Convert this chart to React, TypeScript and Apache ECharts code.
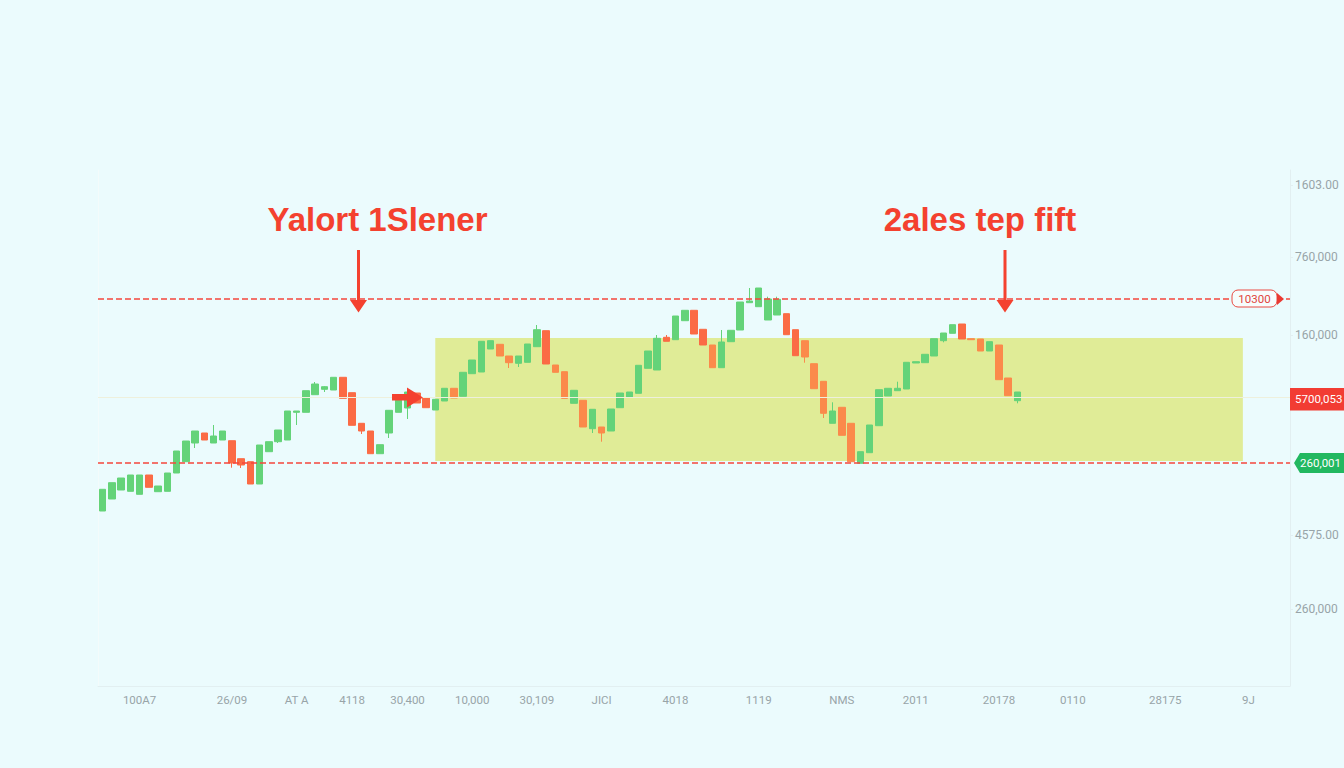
import React, { useEffect, useRef } from 'react';
import * as echarts from 'echarts';

// [open, close, low, high], low/high only where a wick sticks out of the body
const candles: number[][] = [
  [175, 196.7], [187, 203.3], [196, 208], [194.7, 211], [191.7, 211], [211, 198.7], [194.3, 200], [194.7, 213],
  [213, 235], [224.3, 245], [243, 255, 238, 255], [253, 246], [243, 250, 243, 261], [246, 255],
  [245.3, 223, 218.3, 245.3], [227.3, 221, 218, 227.3], [224.3, 202], [202, 241], [234.3, 244.3],
  [244.3, 256, 243, 256], [246, 275], [273.7, 275, 261, 275], [273.7, 295.3], [291.3, 302, 291.3, 304],
  [296.7, 299.3, 294, 299.8], [296, 308.7], [308.7, 287.7], [293.3, 260.7], [262.7, 255, 252, 262.7],
  [255, 232.3], [232.3, 241.3], [253, 275.7, 248, 275.7], [273.7, 285.7], [278, 294, 267, 294], [293, 283],
  [288, 278.3], [276, 286.7], [285, 297.7], [297.7, 288], [289.7, 313.7], [312.3, 326], [314, 344.7],
  [337, 345.3], [341.7, 330], [330, 323.3, 318, 330], [322.7, 330, 319, 330], [323.7, 342],
  [339.3, 356.3, 339.3, 361], [355.3, 322], [321, 313.7], [314.3, 287.7], [282.7, 295.7], [285.7, 259],
  [257.3, 276.7, 253, 276.7], [259, 253, 244.3, 259], [255, 277], [278.3, 293], [288.7, 294], [292.7, 320.7],
  [317.7, 335], [316, 347.7, 316, 351], [348.7, 344.7, 344.7, 351], [346.3, 370], [365.3, 375.7], [375.7, 352],
  [356.7, 341], [341, 318.3], [318.3, 344, 318.3, 356], [344.3, 355.7], [356, 384], [383.3, 385, 383.3, 398],
  [379.3, 398], [366, 387, 366, 389.3], [371, 386.7, 371, 389.3], [372.3, 351.3], [356.3, 330.3],
  [345.3, 329, 323.3, 345.3], [322.3, 297.3], [304.7, 272.7, 268, 304.7], [262.7, 275, 262.7, 283.7],
  [278.7, 250.7], [262.7, 224.3], [222.7, 234.3], [233.3, 261], [260.3, 296.3], [290, 297.7],
  [295.3, 297.7, 295.3, 304.3], [297, 323.7], [323, 324.3], [323.3, 331.7], [330, 347.3],
  [345.3, 353, 343.7, 353], [352.7, 361.3], [362, 347], [347.3, 346.3], [347, 335], [335, 344.3], [341, 306.3],
  [308, 290.3], [285.3, 294, 282.7, 294],
];

const slotCount = 129;
const xLabelSlots = [4, 14, 21, 27, 33, 40, 47, 54, 62, 71, 80, 88, 97, 105, 115, 124];
const xLabels = ['100A7', '26/09', 'AT A', '4118', '30,400', '10,000', '30,109', 'JICI', '4018', '1119', 'NMS', '2011', '20178', '0110', '28175', '9J'];

const yTickValues = [501, 429, 351, 151, 77];
const yTickLabels = ['1603.00', '760,000', '160,000', '4575.00', '260,000'];

const resistance = 387;
const support = 223;
const midLine = 288.5;
const bandTop = 348;
const bandBottom = 225;
const bandStart = 36;
const bandEnd = 123.4;

const GREEN = '#64d379';
const ORANGE = '#fb8a4b';
const RED = '#fb6b45';
const ALERT = '#f4412f';
const AXIS = '#e2eff1';
const LABEL = '#98a4a8';

const categories = Array.from({ length: slotCount }, (_, i) => String(i));

const fullCandle = (c: number[]) => [
  c[0],
  c[1],
  c[2] ?? Math.min(c[0], c[1]),
  c[3] ?? Math.max(c[0], c[1]),
];
// falling candles are redder left of the band and above it
const isRedCandle = (c: number[], i: number) => i < bandStart || c[0] > bandTop;
const blank = ['-', '-', '-', '-'];

const App: React.FC = () => {
  const chartRef = useRef<HTMLDivElement>(null);

  useEffect(() => {
    document.body.style.margin = '0';
    if (!chartRef.current) return;
    const chart = echarts.init(chartRef.current, undefined, { renderer: 'svg' });

    chart.setOption({
      animation: false,
      backgroundColor: '#ebfbfd',
      grid: { left: 98, right: 54, top: 170, bottom: 82 },
      xAxis: [
        {
          type: 'category',
          data: categories,
          axisLine: { lineStyle: { color: AXIS } },
          axisTick: { show: false },
          axisLabel: {
            color: LABEL,
            fontSize: 11.5,
            fontFamily: 'Roboto',
            margin: 8,
            interval: (i: number) => xLabelSlots.includes(i),
            formatter: (_: string, i: number) => xLabels[xLabelSlots.indexOf(i)] ?? '',
          },
          splitLine: { show: false },
        },
        // same span as the category slots, the band can end between two of them
        { type: 'value', show: false, min: -0.5, max: slotCount - 0.5, splitLine: { show: false } },
      ],
      yAxis: [
        {
          type: 'value',
          position: 'right',
          min: 0,
          max: 516,
          axisLine: { show: true, onZero: false, lineStyle: { color: AXIS } },
          axisTick: { show: true, length: 3, customValues: yTickValues, lineStyle: { color: AXIS } },
          axisLabel: {
            color: LABEL,
            fontSize: 12,
            fontFamily: 'Roboto',
            margin: 5,
            customValues: yTickValues,
            formatter: (v: number) => yTickLabels[yTickValues.indexOf(v)] ?? '',
          },
          splitLine: { show: false },
        },
        {
          type: 'value',
          position: 'left',
          min: 0,
          max: 516,
          axisLine: { show: true, onZero: false, lineStyle: { color: '#f3fbfb' } },
          axisTick: { show: false },
          axisLabel: { show: false },
          splitLine: { show: false },
        },
      ],
      series: [
        {
          type: 'line',
          xAxisIndex: 1,
          yAxisIndex: 0,
          data: [],
          z: 1,
          markArea: {
            silent: true,
            itemStyle: { color: '#e0ec97' },
            data: [[{ xAxis: bandStart, yAxis: bandTop }, { xAxis: bandEnd, yAxis: bandBottom }]],
          },
          markLine: {
            silent: true,
            symbol: 'none',
            label: { show: false },
            data: [{ yAxis: midLine, lineStyle: { color: '#eef0dc', type: 'solid', width: 1 } }],
          },
        },
        {
          type: 'candlestick',
          xAxisIndex: 0,
          yAxisIndex: 0,
          barWidth: 7,
          z: 3,
          itemStyle: { color: GREEN, color0: ORANGE, borderColor: GREEN, borderColor0: ORANGE },
          data: candles.map((c, i) => (isRedCandle(c, i) ? blank : fullCandle(c))),
          markLine: {
            silent: true,
            symbol: 'none',
            label: { show: false },
            data: [
              { yAxis: resistance, lineStyle: { color: '#f5473c', type: [6, 3], width: 1.5 } },
              { yAxis: support, lineStyle: { color: '#f5473c', type: [6, 3], width: 1.5 } },
            ],
          },
        },
        {
          type: 'candlestick',
          xAxisIndex: 0,
          yAxisIndex: 0,
          barWidth: 7,
          z: 3,
          itemStyle: { color: GREEN, color0: RED, borderColor: GREEN, borderColor0: RED },
          data: candles.map((c, i) => (isRedCandle(c, i) ? fullCandle(c) : blank)),
        },
      ],
    });

    const yPx = (v: number) => chart.convertToPixel({ yAxisIndex: 0 }, v) as number;
    const resY = yPx(resistance);
    const supY = yPx(support);
    const midY = yPx(midLine);

    const heading = (text: string, x: number) => ({
      type: 'text',
      x,
      y: 219,
      style: {
        text,
        fill: ALERT,
        font: '700 33px "Liberation Sans"',
        textAlign: 'center',
        textVerticalAlign: 'middle',
      },
    });
    const downArrow = (x: number) => ({
      type: 'polygon',
      shape: {
        points: [
          [x - 1.5, 250], [x + 1.5, 250], [x + 1.5, 300], [x + 8.5, 300],
          [x, 312.5], [x - 8.5, 300], [x - 1.5, 300],
        ],
      },
      style: { fill: ALERT },
    });

    chart.setOption({
      graphic: [
        heading('Yalort 1Slener', 377.5),
        heading('2ales tep fift', 980),
        downArrow(358.5),
        downArrow(1005),
        {
          type: 'polygon',
          shape: {
            points: [
              [392, 394], [407, 394], [407, 387.5], [423, 397.5], [407, 407.5], [407, 400.5], [392, 400.5],
            ],
          },
          style: { fill: ALERT },
          z: 10,
        },
        {
          type: 'rect',
          shape: { x: 1232, y: resY - 9, width: 45, height: 17, r: 6 },
          style: { fill: '#f6fdfd', stroke: '#ea4a42', lineWidth: 1 },
          z: 10,
        },
        {
          type: 'polygon',
          shape: { points: [[1277, resY - 6], [1284, resY], [1277, resY + 6]] },
          style: { fill: '#ea3a32' },
          z: 10,
        },
        {
          type: 'text',
          x: 1254.5,
          y: resY - 0.5,
          style: {
            text: '10300',
            fill: '#e0443c',
            font: '11.5px Roboto',
            textAlign: 'center',
            textVerticalAlign: 'middle',
          },
          z: 11,
        },
        {
          type: 'rect',
          shape: { x: 1290, y: midY - 9.5, width: 54, height: 22.5 },
          style: { fill: '#f23c33' },
          z: 10,
        },
        {
          type: 'text',
          x: 1295,
          y: midY + 1.5,
          style: {
            text: '5700,053',
            fill: '#ffffff',
            font: '11.5px Roboto',
            textAlign: 'left',
            textVerticalAlign: 'middle',
          },
          z: 11,
        },
        {
          type: 'polygon',
          shape: {
            points: [[1294, supY], [1300, supY - 10], [1344, supY - 10], [1344, supY + 10], [1300, supY + 10]],
          },
          style: { fill: '#22b860' },
          z: 10,
        },
        {
          type: 'text',
          x: 1300,
          y: supY,
          style: {
            text: '260,001',
            fill: '#ffffff',
            font: '11.5px Roboto',
            textAlign: 'left',
            textVerticalAlign: 'middle',
          },
          z: 11,
        },
      ],
    });

    return () => {
      chart.dispose();
    };
  }, []);

  return <div ref={chartRef} style={{ width: 1344, height: 768 }} />;
};

export default App;
